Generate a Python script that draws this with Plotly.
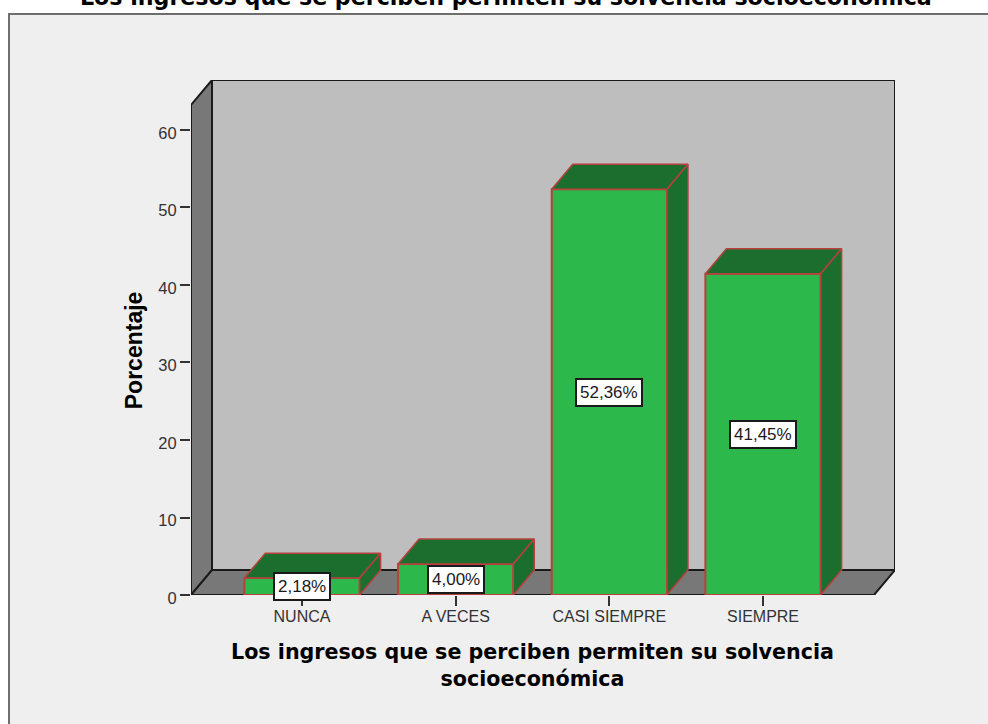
import plotly.graph_objects as go

categories = ['NUNCA', 'A VECES', 'CASI SIEMPRE', 'SIEMPRE']
values = [2.18, 4.00, 52.36, 41.45]
labels = ['2,18%', '4,00%', '52,36%', '41,45%']
y_ticks = [0, 10, 20, 30, 40, 50, 60]

title = 'Los ingresos que se perciben permiten su solvencia socioeconómica'
x_title = 'Los ingresos que se perciben permiten su solvencia<br>socioeconómica'
y_title = 'Porcentaje'

W, H = 988, 724
LEFT, RIGHT, TOP, BOTTOM = 191, 895, 80, 595.5  # plot area in pixels
PX_X = 153.67  # pixels per category
PX_Y = 7.758  # pixels per percent
CENTER0 = 302  # pixel of first category

BAR_W = 0.75
DX = 21 / PX_X  # fake 3d depth in data units
DY = 25 / PX_Y

GREEN = '#2db84b'
DARK_GREEN = '#1c6e2e'
EDGE = '#b8403f'
WALL = '#bebebe'
SIDE = '#787878'
LINE = '#1a1a1a'
BG = '#efefef'

x_range = [(LEFT - CENTER0) / PX_X, (RIGHT - CENTER0) / PX_X]
y_range = [0, (BOTTOM - TOP) / PX_Y]
xs = list(range(len(categories)))


def px(x):  # page pixel to paper fraction
    return (x - LEFT) / (RIGHT - LEFT)


def py(y):
    return (BOTTOM - y) / (BOTTOM - TOP)


def path(points):
    return 'M ' + ' L '.join(f'{a},{b}' for a, b in points) + ' Z'


fig = go.Figure()

# front of the bars
fig.add_trace(go.Bar(
    x=xs, y=values, width=BAR_W,
    marker=dict(color=GREEN, line=dict(color=EDGE, width=2)),
    hoverinfo='skip',
))

# top and side of the bars, depth added to the real values
for x, v in zip(xs, values):
    x0, x1 = x - BAR_W / 2, x + BAR_W / 2
    fig.add_trace(go.Scatter(
        x=[x0, x1, x1 + DX, x0 + DX, x0],
        y=[v, v, v + DY, v + DY, v],
        mode='lines', fill='toself', fillcolor=DARK_GREEN,
        line=dict(color=EDGE, width=1.5), hoverinfo='skip',
    ))
    fig.add_trace(go.Scatter(
        x=[x1, x1 + DX, x1 + DX, x1, x1],
        y=[0, DY, v + DY, v, 0],
        mode='lines', fill='toself', fillcolor=DARK_GREEN,
        line=dict(color=EDGE, width=1.5), hoverinfo='skip',
    ))

shapes = [
    # chart frame
    dict(type='rect', xref='paper', yref='paper', x0=px(9), x1=px(W + 10), y0=py(14), y1=py(H + 10),
         fillcolor=BG, line=dict(color='#6e6e6e', width=2), layer='below'),
    # back wall
    dict(type='path', layer='below', fillcolor=WALL, line=dict(color=LINE, width=2),
         path=path([(x_range[0] + DX, DY), (x_range[1], DY), (x_range[1], y_range[1]), (x_range[0] + DX, y_range[1])])),
    # left wall
    dict(type='path', layer='below', fillcolor=SIDE, line=dict(color=LINE, width=2),
         path=path([(x_range[0], 0), (x_range[0] + DX, DY), (x_range[0] + DX, y_range[1]), (x_range[0], y_range[1] - DY)])),
    # floor
    dict(type='path', layer='below', fillcolor=SIDE, line=dict(color=LINE, width=2),
         path=path([(x_range[0], 0), (x_range[1] - DX, 0), (x_range[1], DY), (x_range[0] + DX, DY)])),
]

annotations = [
    dict(x=x, y=v / 2, text=label, showarrow=False, xref='x', yref='y',
         font=dict(family='Liberation Sans', size=17, color='#1a1a1a'),
         bgcolor='white', bordercolor=LINE, borderwidth=2, borderpad=3)
    for x, v, label in zip(xs, values, labels)
]
annotations += [
    dict(xref='paper', yref='paper', x=px(506), y=py(-3), text=f'<b>{title}</b>', showarrow=False,
         xanchor='center', yanchor='middle',
         font=dict(family='DejaVu Sans', size=22.15, color='black')),
    dict(xref='paper', yref='paper', x=px(532.5), y=py(666), text=f'<b>{x_title}</b>', showarrow=False,
         xanchor='center', yanchor='middle',
         font=dict(family='DejaVu Sans', size=20.65, color='black')),
    dict(xref='paper', yref='paper', x=px(134), y=py(350.5), text=f'<b>{y_title}</b>', showarrow=False, textangle=-90,
         xanchor='center', yanchor='middle',
         font=dict(family='Liberation Sans', size=23, color='black')),
]

fig.update_layout(
    width=W, height=H,
    margin=dict(l=LEFT, r=W - RIGHT, t=TOP, b=H - BOTTOM, pad=0),
    paper_bgcolor='white', plot_bgcolor='rgba(0,0,0,0)',
    showlegend=False,
    shapes=shapes,
    annotations=annotations,
    xaxis=dict(range=x_range, tickmode='array', tickvals=xs, ticktext=categories,
               ticks='outside', ticklen=10, tickcolor='#333333', tickwidth=1.5,
               ticklabelstandoff=-3,
               showgrid=False, zeroline=False, showline=False,
               tickfont=dict(family='Liberation Sans', size=16, color='#333333')),
    yaxis=dict(range=y_range, tickmode='array', tickvals=y_ticks,
               ticks='outside', ticklen=10, tickcolor='#333333', tickwidth=1.5,
               ticklabelshift=3,
               showgrid=False, zeroline=False, showline=False,
               tickfont=dict(family='Liberation Sans', size=16.5, color='#333333')),
)

fig.write_html('out.html', config=dict(displayModeBar=False),
               post_script="document.body.style.margin='0';document.body.style.overflow='hidden';")
